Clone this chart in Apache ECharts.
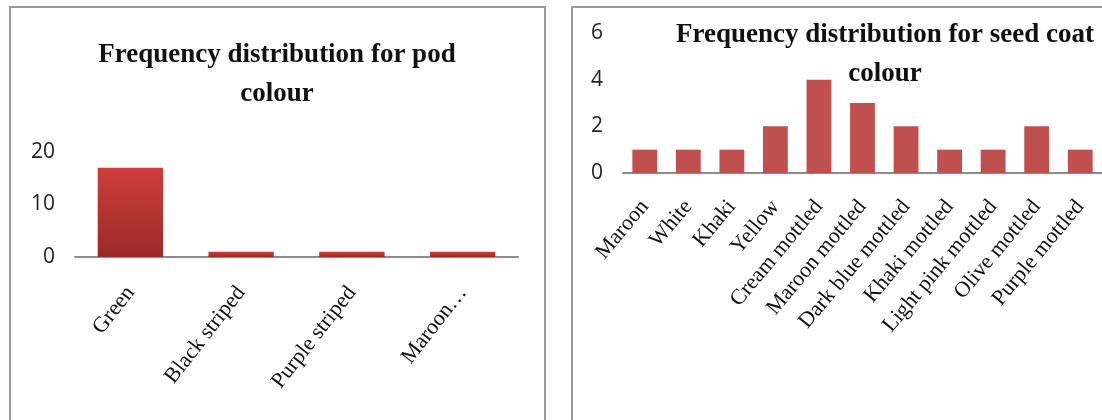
<!DOCTYPE html>
<html>
<head>
<meta charset="utf-8">
<script src="https://cdn.jsdelivr.net/npm/echarts@6/dist/echarts.min.js"></script>
<style>html,body{margin:0;padding:0;background:#fff}#c{width:1102px;height:420px}</style>
</head>
<body>
<div id="c"></div>
<script>
var podCategories = ['Green', 'Black striped', 'Purple striped', 'Maroon\u2026'];
var podValues = [17, 1, 1, 1];
var podTicks = [0, 10, 20];

var seedCategories = ['Maroon', 'White', 'Khaki', 'Yellow', 'Cream mottled', 'Maroon mottled', 'Dark blue mottled', 'Khaki mottled', 'Light pink mottled', 'Olive mottled', 'Purple mottled'];
var seedValues = [1, 1, 1, 2, 4, 3, 2, 1, 1, 2, 1];
var seedTicks = [0, 2, 4, 6];

var chart = echarts.init(document.getElementById('c'));
var serif = "'Liberation Serif', 'DejaVu Serif', serif";
var sans = "'Open Sans', 'Liberation Sans', sans-serif";

function yAxis(idx, max, interval) {
  return {
    type: 'value', gridIndex: idx, min: 0, max: max, interval: interval,
    axisLine: {show: false}, axisTick: {show: false}, splitLine: {show: false},
    axisLabel: {fontFamily: sans, fontSize: 21, color: '#222', margin: 20}
  };
}
function xAxis(idx, cats, fs, rot, margin) {
  return {
    type: 'category', gridIndex: idx, data: cats,
    axisLine: {lineStyle: {color: '#8c8c8c', width: 2}},
    axisTick: {show: false},
    axisLabel: {interval: 0, rotate: rot, fontFamily: serif, fontSize: fs, color: '#111', margin: margin}
  };
}

chart.setOption({
  animation: false,
  backgroundColor: '#fff',
  graphic: [
    {type: 'rect', shape: {x: 10, y: 7, width: 535, height: 430}, style: {fill: 'none', stroke: '#9a9a9a', lineWidth: 2}},
    {type: 'rect', shape: {x: 572, y: 7, width: 545, height: 430}, style: {fill: 'none', stroke: '#9a9a9a', lineWidth: 2}}
  ],
  title: [
    {text: 'Frequency distribution for pod\ncolour', left: 272, top: 31, textAlign: 'center',
     textStyle: {fontFamily: serif, fontWeight: 'bold', fontSize: 27, lineHeight: 39, color: '#111'}},
    {text: 'Frequency distribution for seed coat\ncolour', left: 880, top: 11, textAlign: 'center',
     textStyle: {fontFamily: serif, fontWeight: 'bold', fontSize: 27, lineHeight: 39, color: '#111'}}
  ],
  grid: [
    {left: 75, width: 443, top: 152, height: 105},
    {left: 623, width: 479, top: 33, height: 140}
  ],
  xAxis: [
    xAxis(0, podCategories, 22, 52, 32),
    xAxis(1, seedCategories, 22, 50, 30)
  ],
  yAxis: [
    yAxis(0, podTicks[podTicks.length - 1], podTicks[1] - podTicks[0]),
    yAxis(1, seedTicks[seedTicks.length - 1], seedTicks[1] - seedTicks[0])
  ],
  series: [
    {type: 'bar', xAxisIndex: 0, yAxisIndex: 0, data: podValues, barWidth: '59%',
     itemStyle: {color: new echarts.graphic.LinearGradient(0, 0, 0, 1, [{offset: 0, color: '#cf3d3a'}, {offset: 1, color: '#9a2a29'}])}},
    {type: 'bar', xAxisIndex: 1, yAxisIndex: 1, data: seedValues, barWidth: '57%',
     itemStyle: {color: '#c0504d'}}
  ]
});
</script>
</body>
</html>
